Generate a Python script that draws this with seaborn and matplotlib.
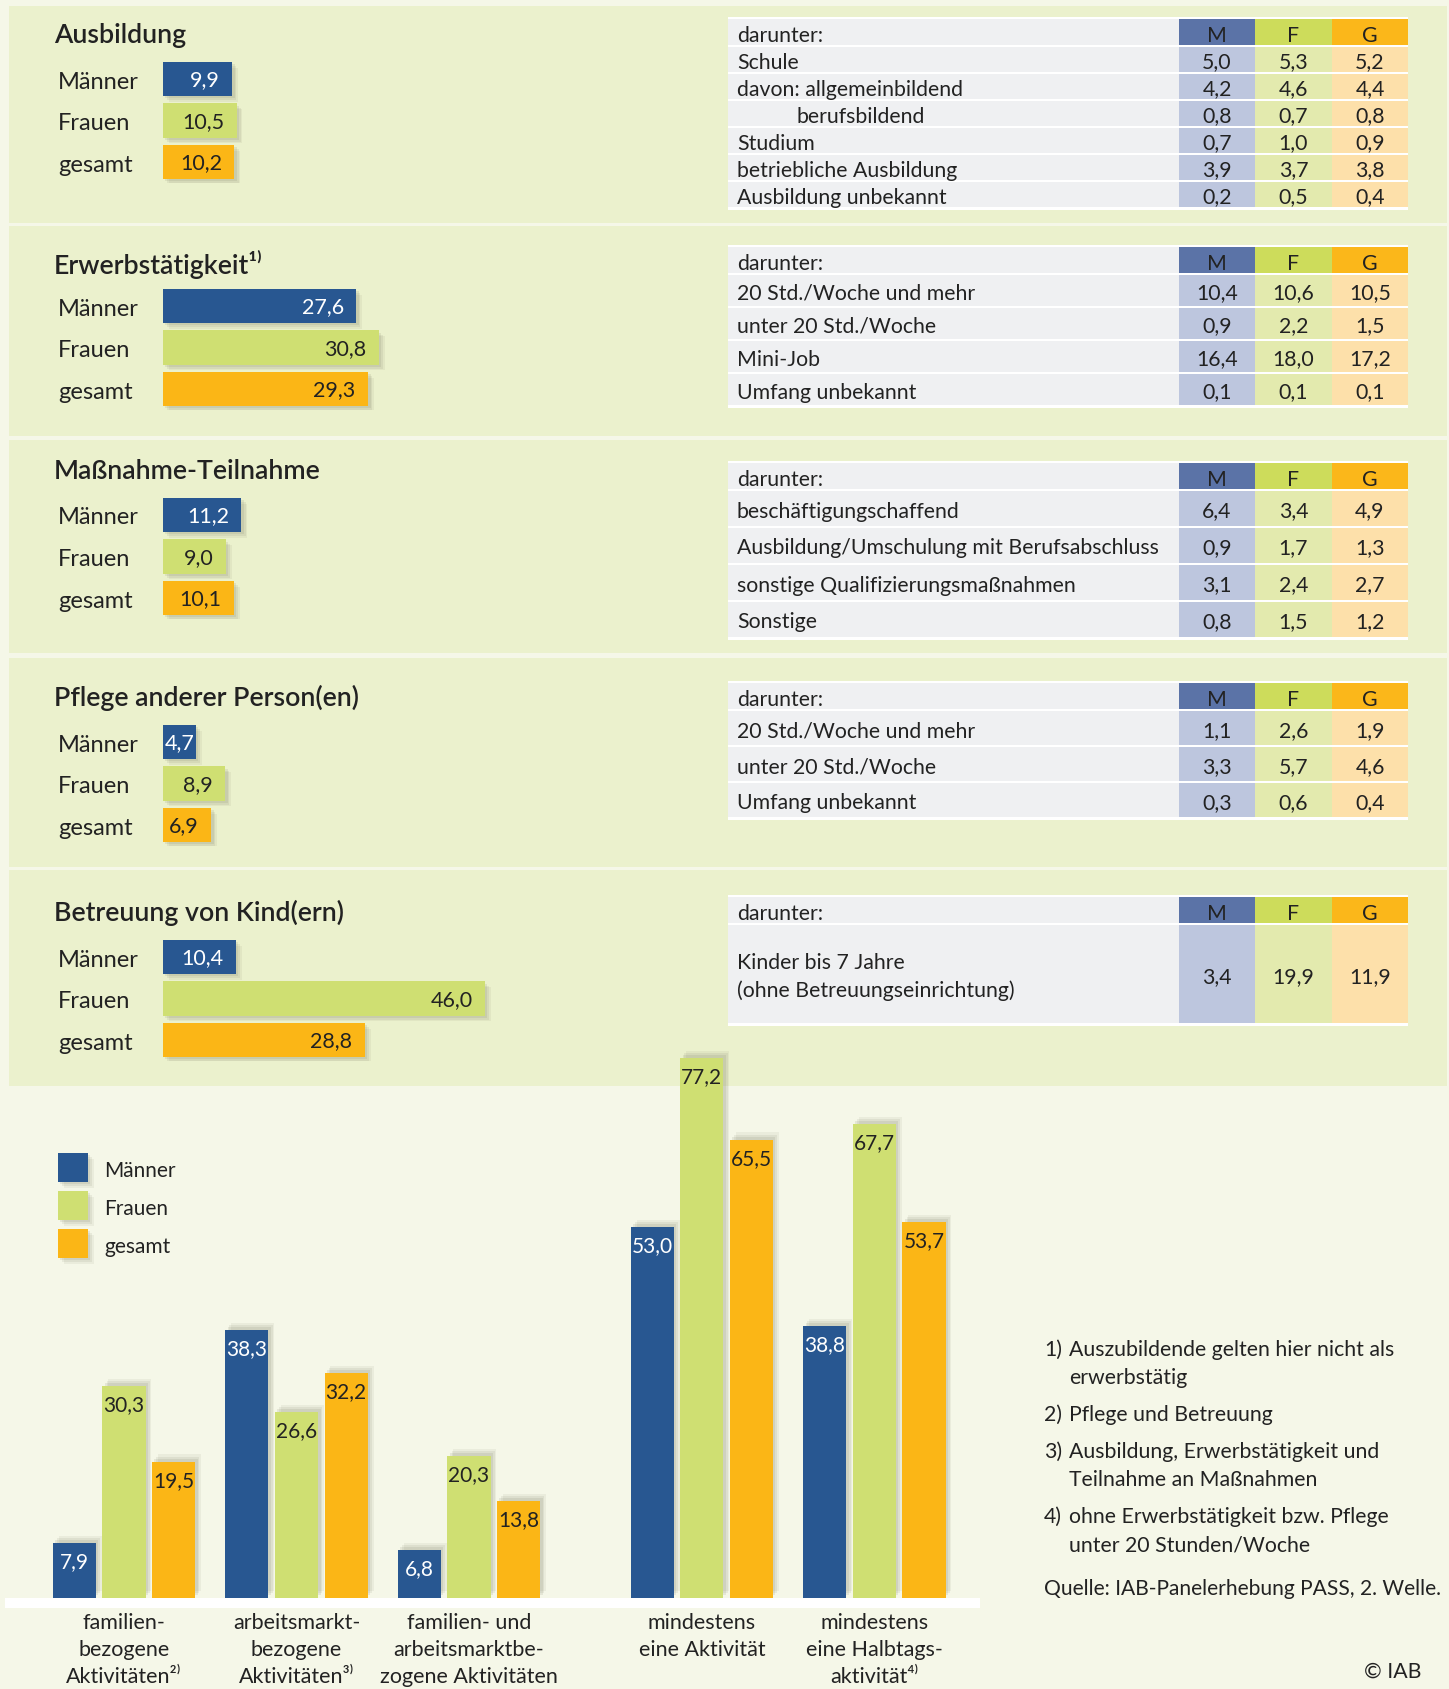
import matplotlib
matplotlib.use("Agg")
import matplotlib.pyplot as plt
import matplotlib.patheffects as pe
from matplotlib.patches import Rectangle
import pandas as pd
import seaborn as sns

# --- Data ---
GROUPS = ["Männer", "Frauen", "gesamt"]

SECTIONS = ["Ausbildung", "Erwerbstätigkeit¹⁾", "Maßnahme-Teilnahme",
            "Pflege anderer Person(en)", "Betreuung von Kind(ern)"]
AUSBILDUNG = [9.9, 10.5, 10.2]
ERWERB = [27.6, 30.8, 29.3]
MASSNAHME = [11.2, 9.0, 10.1]
PFLEGE = [4.7, 8.9, 6.9]
BETREUUNG = [10.4, 46.0, 28.8]

T1_ROWS = ["Schule", "davon: allgemeinbildend", "berufsbildend", "Studium",
           "betriebliche Ausbildung", "Ausbildung unbekannt"]
T1_M = [5.0, 4.2, 0.8, 0.7, 3.9, 0.2]
T1_F = [5.3, 4.6, 0.7, 1.0, 3.7, 0.5]
T1_G = [5.2, 4.4, 0.8, 0.9, 3.8, 0.4]

T2_ROWS = ["20 Std./Woche und mehr", "unter 20 Std./Woche", "Mini-Job", "Umfang unbekannt"]
T2_M = [10.4, 0.9, 16.4, 0.1]
T2_F = [10.6, 2.2, 18.0, 0.1]
T2_G = [10.5, 1.5, 17.2, 0.1]

T3_ROWS = ["beschäftigungschaffend", "Ausbildung/Umschulung mit Berufsabschluss",
           "sonstige Qualifizierungsmaßnahmen", "Sonstige"]
T3_M = [6.4, 0.9, 3.1, 0.8]
T3_F = [3.4, 1.7, 2.4, 1.5]
T3_G = [4.9, 1.3, 2.7, 1.2]

T4_ROWS = ["20 Std./Woche und mehr", "unter 20 Std./Woche", "Umfang unbekannt"]
T4_M = [1.1, 3.3, 0.3]
T4_F = [2.6, 5.7, 0.6]
T4_G = [1.9, 4.6, 0.4]

T5_ROWS = ["Kinder bis 7 Jahre\n(ohne Betreuungseinrichtung)"]
T5_M = [3.4]
T5_F = [19.9]
T5_G = [11.9]

CATEGORIES = ["familien-\nbezogene\nAktivitäten²⁾",
              "arbeitsmarkt-\nbezogene\nAktivitäten³⁾",
              "familien- und\narbeitsmarktbe-\nzogene Aktivitäten",
              "mindestens\neine Aktivität",
              "mindestens\neine Halbtags-\naktivität⁴⁾"]
MAENNER = [7.9, 38.3, 6.8, 53.0, 38.8]
FRAUEN = [30.3, 26.6, 20.3, 77.2, 67.7]
GESAMT = [19.5, 32.2, 13.8, 65.5, 53.7]

FOOTNOTES = [("1)", ["Auszubildende gelten hier nicht als", "erwerbstätig"]),
             ("2)", ["Pflege und Betreuung"]),
             ("3)", ["Ausbildung, Erwerbstätigkeit und", "Teilnahme an Maßnahmen"]),
             ("4)", ["ohne Erwerbstätigkeit bzw. Pflege", "unter 20 Stunden/Woche"])]
SOURCE = "Quelle: IAB-Panelerhebung PASS, 2. Welle."

# --- Style / layout ---
COLORS = {"Männer": "#285791", "Frauen": "#cfdf72", "gesamt": "#fbb616"}
HEAD_COLORS = ["#5b73a7", "#cddc5b", "#fbb71a"]
CELL_COLORS = ["#bdc6de", "#e3eaae", "#fde0aa"]
LABEL_BG = "#eff0f2"
PANEL = "#ebf1cd"
BG = "#f5f7e8"
TXT = "#222222"

W, H = 1449, 1689
DY = 3  # visual centering of text
PANEL_Y = [(6, 223), (226, 436), (440, 653), (658, 867), (870, 1086)]
TITLE_Y = [32, 261, 468, 695, 910]
ROW0_Y = [79, 306, 515, 742, 957]
TABLE_TOP = [19, 247, 463, 683, 897]
ROW_H = [27, 33, 37, 36, 100]
HEADER_H = 27
PX_PER_UNIT = 7.0
ROW_STEP = 41.5
TFS = 15.3

plt.rcParams["font.family"] = ["Lato", "DejaVu Sans"]

fig = plt.figure(figsize=(W / 100, H / 100), dpi=100, facecolor=BG)


def px_rect(x, y, w, h):
    return [x / W, 1 - (y + h) / H, w / W, h / H]


def fmt(v):
    return f"{v:.1f}".replace(".", ",")


def shadow(patch, off=(2.5, -2.5)):
    effects = []
    for s, a in [(1.7, 0.08), (1.2, 0.10), (0.7, 0.12)]:
        effects.append(pe.SimplePatchShadow(offset=(off[0] * s, off[1] * s),
                                            shadow_rgbFace="#707058", alpha=a))
    effects.append(pe.Normal())
    patch.set_path_effects(effects)


bg = fig.add_axes([0, 0, 1, 1])
bg.set_xlim(0, W)
bg.set_ylim(H, 0)
bg.axis("off")

for (y0, y1) in PANEL_Y:
    bg.add_patch(Rectangle((9, y0), 1447 - 9, y1 - y0, color=PANEL, lw=0))


def draw_table(top, row_h, labels, m, f, g):
    x0, xm, xf, xg, x1 = 728, 1179, 1255, 1332, 1408
    cols = [(xm, xf), (xf, xg), (xg, x1)]
    n = len(labels)
    total = HEADER_H + n * row_h
    bg.add_patch(Rectangle((x0, top - 2), x1 - x0, total + 4, color="white", lw=0))
    # header
    bg.add_patch(Rectangle((x0, top), xm - x0, HEADER_H - 1, color=LABEL_BG, lw=0))
    bg.text(x0 + 9, top + HEADER_H / 2 + DY, "darunter:", fontsize=TFS, color=TXT, va="center")
    for (a, b), c, t in zip(cols, HEAD_COLORS, ["M", "F", "G"]):
        bg.add_patch(Rectangle((a, top), b - a, HEADER_H - 1, color=c, lw=0))
        bg.text((a + b) / 2, top + HEADER_H / 2 + DY, t, fontsize=TFS, color=TXT,
                ha="center", va="center")
    for i, lab in enumerate(labels):
        y = top + HEADER_H + i * row_h
        bg.add_patch(Rectangle((x0, y + 1), xm - x0, row_h - 2, color=LABEL_BG, lw=0))
        indent = 69 if lab == "berufsbildend" else 9
        bg.text(x0 + indent, y + row_h / 2 + DY, lab, fontsize=TFS, color=TXT, va="center",
                linespacing=1.5)
        for (a, b), c, vals in zip(cols, CELL_COLORS, [m, f, g]):
            bg.add_patch(Rectangle((a, y + 1), b - a, row_h - 2, color=c, lw=0))
            bg.text((a + b) / 2, y + row_h / 2 + DY, fmt(vals[i]), fontsize=TFS, color=TXT,
                    ha="center", va="center")


tables = [(T1_ROWS, T1_M, T1_F, T1_G), (T2_ROWS, T2_M, T2_F, T2_G), (T3_ROWS, T3_M, T3_F, T3_G),
          (T4_ROWS, T4_M, T4_F, T4_G), (T5_ROWS, T5_M, T5_F, T5_G)]
sections = [AUSBILDUNG, ERWERB, MASSNAHME, PFLEGE, BETREUUNG]

for k in range(5):
    bg.text(54, TITLE_Y[k] + DY, SECTIONS[k], fontsize=19.3, fontweight="semibold",
            color=TXT, va="center")
    for i, grp in enumerate(GROUPS):
        bg.text(58, ROW0_Y[k] + i * ROW_STEP + DY, grp, fontsize=17, color=TXT, va="center")
    draw_table(TABLE_TOP[k], ROW_H[k], *tables[k])

    # horizontal bars
    top = ROW0_Y[k] - ROW_STEP / 2
    ax = fig.add_axes(px_rect(163, top, 420, 3 * ROW_STEP))
    ax.patch.set_alpha(0)
    vals = sections[k]
    sns.barplot(x=vals, y=GROUPS, hue=GROUPS, palette=COLORS, orient="h", width=0.82,
                saturation=1, legend=False, ax=ax)
    ax.set_xlim(0, 420 / PX_PER_UNIT)
    ax.set_ylim(2.5, -0.5)
    ax.axis("off")
    for p in ax.patches:
        shadow(p)
    for i, v in enumerate(vals):
        col = "white" if i == 0 else TXT
        if v < 6:
            ax.annotate(fmt(v), xy=(v / 2, i), xytext=(0, -1), textcoords="offset points",
                        ha="center", va="center", fontsize=15.5, color=col)
        else:
            ax.annotate(fmt(v), xy=(v, i), xytext=(-9, -1), textcoords="offset points",
                        ha="right", va="center", fontsize=15.5, color=col)

# --- bottom grouped bar chart ---
GROUP_POS = [0, 1, 2, 3.35, 4.35]
df = pd.DataFrame({
    "pos": GROUP_POS * 3,
    "value": MAENNER + FRAUEN + GESAMT,
    "group": ["Männer"] * 5 + ["Frauen"] * 5 + ["gesamt"] * 5,
})

step = 172.5
ax2 = fig.add_axes(px_rect(5, 1040, 975, 558))
ax2.patch.set_alpha(0)
sns.barplot(data=df, x="pos", y="value", hue="group", hue_order=GROUPS, palette=COLORS,
            native_scale=True, width=0.8625, gap=0.13, saturation=1, errorbar=None,
            legend=False, ax=ax2)
ax2.set_xlim((5 - 124) / step, (980 - 124) / step)
ax2.set_ylim(0, 558 / PX_PER_UNIT)
for p in ax2.patches:
    shadow(p, off=(2.5, 3))
for cont, grp in zip(ax2.containers, GROUPS):
    ax2.bar_label(cont, labels=[fmt(v) for v in cont.datavalues], padding=-21, fontsize=15,
                  color="white" if grp == "Männer" else TXT)
ax2.set_xticks(GROUP_POS)
ax2.set_xticklabels(CATEGORIES, fontsize=15.5, linespacing=1.42, color=TXT)
ax2.tick_params(axis="x", length=0, pad=11)
ax2.set_yticks([])
ax2.set_xlabel("")
ax2.set_ylabel("")
for s in ax2.spines.values():
    s.set_visible(False)

bg.add_patch(Rectangle((5, 1598), 975, 10, color="white", lw=0))

# legend
for i, grp in enumerate(GROUPS):
    y = 1153 + i * 38
    r = Rectangle((58, y), 30, 29, color=COLORS[grp], lw=0)
    bg.add_patch(r)
    shadow(r)
    bg.text(104, y + 15 + DY, grp, fontsize=15, color=TXT, va="center")

# footnotes
fy = [1347, 1412, 1449, 1514]
for (num, lines), y in zip(FOOTNOTES, fy):
    bg.text(1044, y + DY, num, fontsize=15.3, color=TXT, va="center")
    for j, line in enumerate(lines):
        bg.text(1069, y + j * 28.5 + DY, line, fontsize=15.3, color=TXT, va="center")
bg.text(1044, 1586 + DY, SOURCE, fontsize=15.1, color=TXT, va="center")
bg.text(1422, 1672, "© IAB", fontsize=15.3, color=TXT, va="center", ha="right")

fig.savefig("out.png", dpi=100, facecolor=BG)
